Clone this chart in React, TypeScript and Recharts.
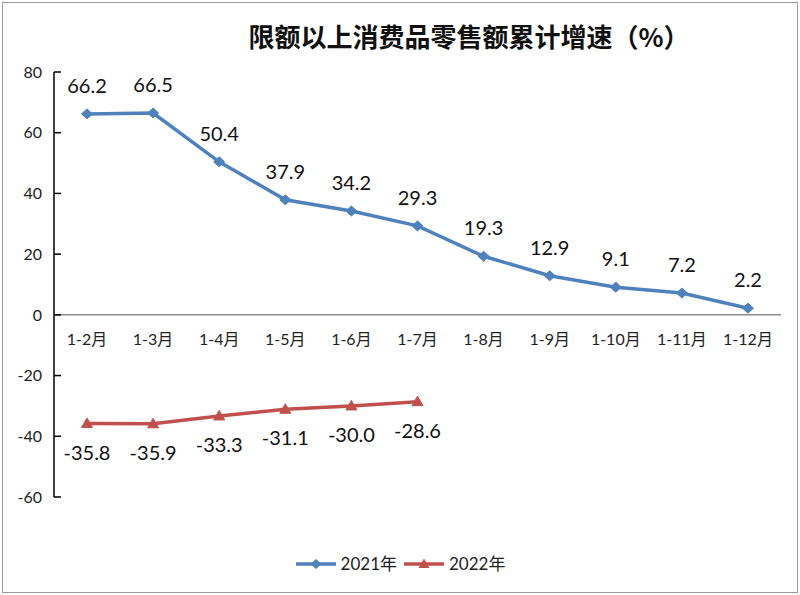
import React from 'react';
import { LineChart, Line, XAxis, YAxis, ReferenceLine, LabelList } from 'recharts';

const categories = ['1-2月', '1-3月', '1-4月', '1-5月', '1-6月', '1-7月', '1-8月', '1-9月', '1-10月', '1-11月', '1-12月'];
const values2021 = [66.2, 66.5, 50.4, 37.9, 34.2, 29.3, 19.3, 12.9, 9.1, 7.2, 2.2];
const values2022 = [-35.8, -35.9, -33.3, -31.1, -30.0, -28.6];
const yTicks = [80, 60, 40, 20, 0, -20, -40, -60];
const seriesNames = ['2021年', '2022年'];
const title = '限额以上消费品零售额累计增速（%）';

const BLUE = '#4F81BD';
const RED = '#C0504D';
const FONT = 'Lato, "Noto Sans CJK SC", sans-serif';

const data = categories.map((c, i) => ({
  name: c,
  y2021: values2021[i],
  y2022: i < values2022.length ? values2022[i] : null,
}));

const W = 800;
const H = 595;
const X_AXIS_H = 30;
const M = { top: 72, right: 19, bottom: 98 - X_AXIS_H, left: 0 };
const Y_MIN = -60;
const Y_MAX = 80;
const plotH = H - M.top - M.bottom - X_AXIS_H;
const zeroShift = (plotH * (0 - Y_MIN)) / (Y_MAX - Y_MIN);

const Diamond = (props: any) => {
  const { cx, cy } = props;
  if (cx == null || cy == null) return null;
  return <polygon points={`${cx},${cy - 5} ${cx + 5.5},${cy} ${cx},${cy + 5} ${cx - 5.5},${cy}`} fill={BLUE} stroke={BLUE} />;
};

const Triangle = (props: any) => {
  const { cx, cy } = props;
  if (cx == null || cy == null) return null;
  return <polygon points={`${cx},${cy - 5.5} ${cx + 5.5},${cy + 4} ${cx - 5.5},${cy + 4}`} fill={RED} stroke={RED} />;
};

const XTick = (props: any) => {
  const { x, y, payload } = props;
  return (
    <text x={x} y={y - zeroShift + 30} textAnchor="middle" fontSize={16} fill="#222" fontFamily={FONT}>
      {payload.value}
    </text>
  );
};

const fmt = (v: any) => (v == null ? '' : Number(v).toFixed(1));

const LegendIcon = ({ color, kind }: { color: string; kind: 'diamond' | 'triangle' }) => (
  <svg width={42} height={14} style={{ display: 'inline-block', verticalAlign: 'middle' }}>
    <line x1={1} y1={7} x2={41} y2={7} stroke={color} strokeWidth={3.5} />
    {kind === 'diamond' ? (
      <polygon points="21,2 26.5,7 21,12 15.5,7" fill={color} />
    ) : (
      <polygon points="21,1.5 26.5,11 15.5,11" fill={color} />
    )}
  </svg>
);

export default function App() {
  return (
    <div style={{ position: 'absolute', left: 0, top: 0, width: W, height: H, background: '#fff' }}>
      <div
        style={{
          position: 'absolute',
          left: 2,
          top: 2,
          width: W - 6,
          height: H - 6,
          border: '1px solid #9a9a9a',
        }}
      />
      <div
        style={{
          position: 'absolute',
          left: 0,
          top: 19,
          width: W,
          paddingLeft: 138,
          boxSizing: 'border-box',
          textAlign: 'center',
          fontFamily: '"Noto Sans CJK SC", sans-serif',
          fontWeight: 700,
          fontSize: 26,
          lineHeight: '34px',
          color: '#111',
          whiteSpace: 'nowrap',
        }}
      >
        {title}
      </div>
      <div style={{ position: 'absolute', left: 0, top: 0 }}>
        <LineChart width={W} height={H} data={data} margin={M}>
          <XAxis
            dataKey="name"
            axisLine={false}
            tickLine={false}
            tickSize={0}
            tickMargin={0}
            height={X_AXIS_H}
            padding={{ left: 33, right: 33 }}
            tick={<XTick />}
            interval={0}
          />
          <YAxis
            domain={[Y_MIN, Y_MAX]}
            ticks={yTicks}
            width={54}
            axisLine={{ stroke: '#000', strokeWidth: 1.5 }}
            tickLine={{ stroke: '#000', strokeWidth: 1.5 }}
            tickSize={-7}
            tickMargin={19}
            tick={{ fontSize: 16, fill: '#222', fontFamily: FONT }}
            interval={0}
          />
          <ReferenceLine y={0} stroke="#8c8c8c" strokeWidth={1.5} />
          <Line
            type="linear"
            dataKey="y2021"
            name={seriesNames[0]}
            stroke={BLUE}
            strokeWidth={3.5}
            dot={<Diamond />}
            activeDot={false}
            isAnimationActive={false}
          >
            <LabelList dataKey="y2021" position="top" offset={21} formatter={fmt} fontSize={20} fill="#111" fontFamily={FONT} />
          </Line>
          <Line
            type="linear"
            dataKey="y2022"
            name={seriesNames[1]}
            stroke={RED}
            strokeWidth={3.5}
            dot={<Triangle />}
            activeDot={false}
            connectNulls={false}
            isAnimationActive={false}
          >
            <LabelList dataKey="y2022" position="bottom" offset={22} formatter={fmt} fontSize={20} fill="#111" fontFamily={FONT} />
          </Line>
        </LineChart>
      </div>
      <div
        style={{
          position: 'absolute',
          left: 0,
          top: 551,
          width: W,
          paddingLeft: 0,
          textAlign: 'center',
          fontFamily: FONT,
          fontSize: 17,
          color: '#222',
          lineHeight: '22px',
          whiteSpace: 'nowrap',
        }}
      >
        <span style={{ display: 'inline-block', marginRight: 6 }}>
          <LegendIcon color={BLUE} kind="diamond" />
          <span style={{ verticalAlign: 'middle', marginLeft: 4 }}>{seriesNames[0]}</span>
        </span>
        <span style={{ display: 'inline-block' }}>
          <LegendIcon color={RED} kind="triangle" />
          <span style={{ verticalAlign: 'middle', marginLeft: 4 }}>{seriesNames[1]}</span>
        </span>
      </div>
    </div>
  );
}
